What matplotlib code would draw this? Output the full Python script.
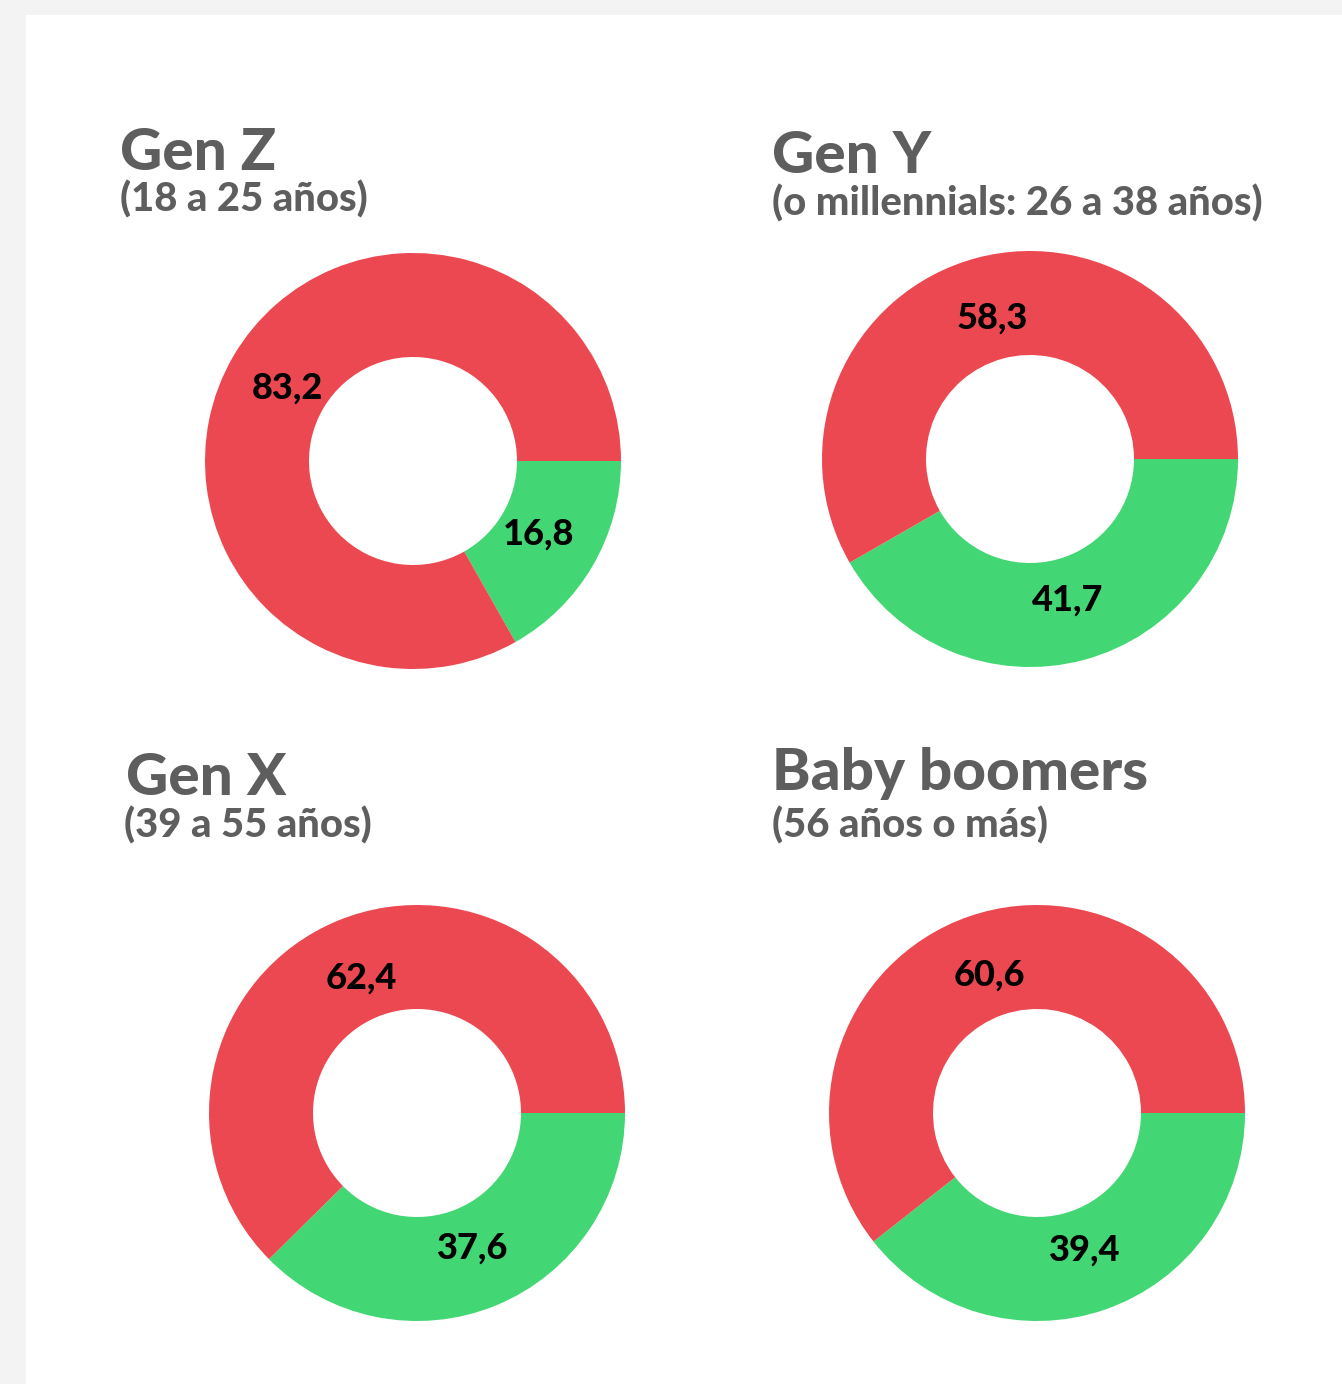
import matplotlib
matplotlib.use("Agg")
import matplotlib.pyplot as plt
import numpy as np

titles = ["Gen Z", "Gen Y", "Gen X", "Baby boomers"]
subtitles = ["(18 a 25 años)", "(o millennials: 26 a 38 años)", "(39 a 55 años)", "(56 años o más)"]
green_vals = [16.8, 41.7, 37.6, 39.4]
red_vals = [83.2, 58.3, 62.4, 60.6]

RED = "#EC4852"
GREEN = "#42D674"
GRAY_TXT = "#5E5E5E"

W, H = 1342, 1384
fig = plt.figure(figsize=(W / 100, H / 100), dpi=100)
fig.patch.set_facecolor("#F3F3F3")
ax = fig.add_axes([0, 0, 1, 1])
ax.set_facecolor("white")

ax.add_patch(plt.Rectangle((26, 0), W - 26, H - 15, color="white", zorder=0))

centers = [(413, 461), (1030, 459), (417, 1113), (1037, 1113)]
title_pos = [(120, 170), (772, 173), (126, 795), (772, 790)]
sub_pos = [(120, 212), (772, 215), (124, 837), (772, 838)]
R = 208

for i in range(4):
    cx, cy = centers[i]
    cy = H - cy
    vals = [green_vals[i], red_vals[i]]
    ax.pie(vals, colors=[GREEN, RED], startangle=0, counterclock=False,
           radius=R, center=(cx, cy), wedgeprops=dict(width=R * 0.5, linewidth=0),
           frame=True)
    start = 0.0
    for v in vals:
        span = v / 100 * 360
        mid = np.deg2rad(start - span / 2)
        r = 0.70 * R
        ax.text(cx + r * np.cos(mid), cy + r * np.sin(mid),
                f"{v:.1f}".replace(".", ","), ha="center", va="center",
                fontsize=26, fontweight="black", family="Lato", color="black")
        start -= span
    tx, ty = title_pos[i]
    ax.text(tx, H - ty, titles[i], ha="left", va="baseline", fontsize=42,
            fontweight="black", family="Lato", color=GRAY_TXT)
    sx, sy = sub_pos[i]
    ax.text(sx, H - sy, subtitles[i], ha="left", va="baseline", fontsize=28.8,
            fontweight="black", family="Lato", color=GRAY_TXT)

ax.set_xlim(0, W)
ax.set_ylim(0, H)
ax.set_aspect("equal")
ax.axis("off")
fig.savefig("out.png", dpi=100, facecolor=fig.get_facecolor())
